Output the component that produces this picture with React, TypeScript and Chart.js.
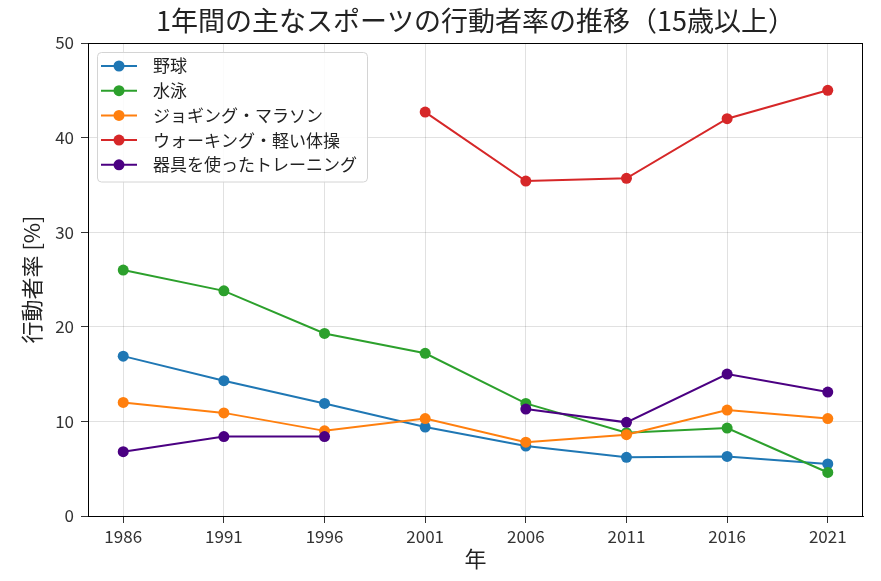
import { useEffect, useRef } from 'react';
import { Chart, registerables } from 'chart.js';

Chart.register(...registerables);

const years = [1986, 1991, 1996, 2001, 2006, 2011, 2016, 2021];
const yTicks = [0, 10, 20, 30, 40, 50];

const baseball = [16.9, 14.3, 11.9, 9.4, 7.4, 6.2, 6.3, 5.5];
const swimming = [26.0, 23.8, 19.3, 17.2, 11.9, 8.8, 9.3, 4.6];
const jogging = [12.0, 10.9, 9.0, 10.3, 7.8, 8.6, 11.2, 10.3];
const walking = [null, null, null, 42.7, 35.4, 35.7, 42.0, 45.0];
const training = [6.8, 8.4, 8.4, null, 11.3, 9.9, 15.0, 13.1];

const seriesLabels = [
  '野球',
  '水泳',
  'ジョギング・マラソン',
  'ウォーキング・軽い体操',
  '器具を使ったトレーニング',
];
const seriesColors = ['#1f77b4', '#2ca02c', '#ff7f0e', '#d62728', '#4b0082'];
const seriesValues = [baseball, swimming, jogging, walking, training];

const titleText = '1年間の主なスポーツの行動者率の推移（15歳以上）';
const xTitle = '年';
const yTitle = '行動者率 [%]';

const FONT = '"Noto Sans CJK JP", "Noto Sans", sans-serif';

// frame, titles and a matplotlib-like legend inside the axes
const decorations = {
  id: 'decorations',
  afterDatasetsDraw(chart: Chart) {
    const { ctx, chartArea } = chart;
    const { left, right, top, bottom } = chartArea;
    ctx.save();

    ctx.strokeStyle = '#000';
    ctx.lineWidth = 1;
    ctx.strokeRect(left + 0.5, top + 0.5, right - left - 1, bottom - top);

    // legend
    const fs = 17;
    ctx.font = `${fs}px ${FONT}`;
    const widths = seriesLabels.map((l) => ctx.measureText(l).width);
    const bx = left + 9;
    const by = top + 9;
    const rowH = 24.7;
    const bw = 56 + Math.max(...widths) + 10;
    const bh = rowH * seriesLabels.length + 6;
    ctx.beginPath();
    ctx.roundRect(bx + 0.5, by + 0.5, bw, bh, 4);
    ctx.fillStyle = 'rgba(255,255,255,0.85)';
    ctx.fill();
    ctx.strokeStyle = '#d4d4d4';
    ctx.lineWidth = 1;
    ctx.stroke();
    seriesLabels.forEach((label, i) => {
      const cy = by + 14 + i * rowH;
      ctx.strokeStyle = seriesColors[i];
      ctx.lineWidth = 2;
      ctx.beginPath();
      ctx.moveTo(bx + 4, cy);
      ctx.lineTo(bx + 40, cy);
      ctx.stroke();
      ctx.fillStyle = seriesColors[i];
      ctx.beginPath();
      ctx.arc(bx + 22, cy, 5.5, 0, Math.PI * 2);
      ctx.fill();
      ctx.fillStyle = '#222';
      ctx.textAlign = 'left';
      ctx.textBaseline = 'middle';
      ctx.fillText(label, bx + 56, cy);
    });

    // title and axis titles
    const cx = (left + right) / 2;
    ctx.fillStyle = '#222';
    ctx.textAlign = 'center';
    ctx.textBaseline = 'middle';
    ctx.font = `27px ${FONT}`;
    ctx.fillText(titleText, cx, 21);
    ctx.font = `22px ${FONT}`;
    ctx.fillText(xTitle, cx, 559);
    ctx.save();
    ctx.translate(32, (top + bottom) / 2);
    ctx.rotate(-Math.PI / 2);
    ctx.fillText(yTitle, 0, 0);
    ctx.restore();

    ctx.restore();
  },
};

export default function App() {
  const canvasRef = useRef<HTMLCanvasElement>(null);
  const chartRef = useRef<Chart | null>(null);

  useEffect(() => {
    if (!canvasRef.current) return;
    document.body.style.margin = '0';
    if (chartRef.current) chartRef.current.destroy();

    const datasets = seriesValues.map((vals, i) => ({
      label: seriesLabels[i],
      data: years.map((x, j) => ({ x, y: vals[j] })),
      borderColor: seriesColors[i],
      backgroundColor: seriesColors[i],
      pointBackgroundColor: seriesColors[i],
      pointBorderWidth: 0,
      pointRadius: 5.5,
      borderWidth: 2,
      spanGaps: false,
      order: seriesValues.length - i,
    }));

    chartRef.current = new Chart(canvasRef.current, {
      type: 'line',
      data: { datasets },
      options: {
        animation: false,
        responsive: true,
        maintainAspectRatio: false,
        layout: { padding: { top: 43, right: 18, left: 0, bottom: 0 } },
        plugins: {
          legend: { display: false },
          title: { display: false },
          tooltip: { enabled: false },
        },
        scales: {
          x: {
            type: 'linear',
            min: 1984.25,
            max: 2022.75,
            afterBuildTicks: (scale: any) => {
              scale.ticks = years.map((v) => ({ value: v }));
            },
            afterFit: (scale: any) => {
              scale.height = 65;
            },
            ticks: {
              callback: (v: any) => String(v),
              color: '#333',
              font: { family: FONT, size: 17 },
              padding: 3,
              maxRotation: 0,
              autoSkip: false,
            },
            grid: {
              color: 'rgba(0,0,0,0.15)',
              lineWidth: 0.8,
              tickColor: '#000',
              tickLength: 7,
            },
            border: { color: '#000', width: 1 },
          },
          y: {
            min: 0,
            max: 50,
            afterBuildTicks: (scale: any) => {
              scale.ticks = yTicks.map((v) => ({ value: v }));
            },
            afterFit: (scale: any) => {
              scale.width = 88;
            },
            ticks: {
              callback: (v: any) => String(v),
              color: '#333',
              font: { family: FONT, size: 17 },
              padding: 7,
            },
            grid: {
              color: 'rgba(0,0,0,0.15)',
              lineWidth: 0.8,
              tickColor: '#000',
              tickLength: 7,
            },
            border: { color: '#000', width: 1 },
          },
        },
      },
      plugins: [decorations],
    });

    return () => {
      if (chartRef.current) {
        chartRef.current.destroy();
        chartRef.current = null;
      }
    };
  }, []);

  return (
    <div style={{ position: 'relative', width: 881, height: 581 }}>
      <canvas ref={canvasRef} />
    </div>
  );
}
